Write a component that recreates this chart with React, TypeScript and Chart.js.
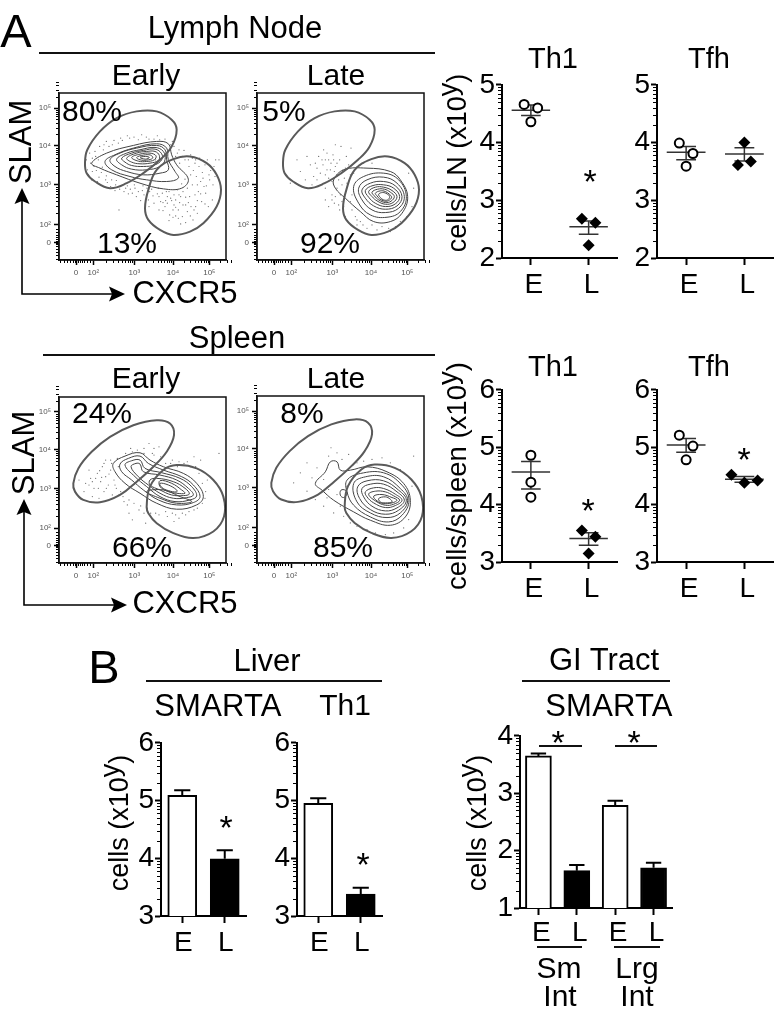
import React, { useEffect, useRef } from 'react';
import { Chart, registerables } from 'chart.js';
Chart.register(...registerables);

const FONT = '"Liberation Sans", Arial, sans-serif';

// ---------- summary data (log10 cells) ----------
const CATEGORIES_EL = ['E', 'L'];
const GI_CATEGORIES = ['E', 'L', 'E', 'L'];

const LN_TH1_E = [4.66, 4.6, 4.36];
const LN_TH1_L = [2.68, 2.61, 2.22];
const LN_TH1_MEAN = [4.56, 2.54];
const LN_TH1_HI = [4.65, 2.64];
const LN_TH1_LO = [4.47, 2.41];
const LN_TFH_E = [3.99, 3.81, 3.59];
const LN_TFH_L = [3.61, 4.0, 3.67];
const LN_TFH_MEAN = [3.83, 3.8];
const LN_TFH_HI = [3.93, 3.91];
const LN_TFH_LO = [3.7, 3.68];
const SP_TH1_E = [4.86, 4.39, 4.13];
const SP_TH1_L = [3.55, 3.44, 3.15];
const SP_TH1_MEAN = [4.57, 3.41];
const SP_TH1_HI = [4.75, 3.51];
const SP_TH1_LO = [4.27, 3.29];
const SP_TFH_E = [5.21, 5.02, 4.78];
const SP_TFH_L = [4.52, 4.38, 4.42];
const SP_TFH_MEAN = [5.04, 4.44];
const SP_TFH_HI = [5.15, 4.49];
const SP_TFH_LO = [4.91, 4.39];

const OFFSET_TRIANGLE = [-0.117, 0.117, 0];
const OFFSET_COLUMN = [0, 0, 0];
const OFFSET_WIDE = [-0.222, 0, 0.228];
const OFFSET_LN_TFH_L = [-0.111, 0, 0.111];

const LIVER_SMARTA = [5.09, 3.99];
const LIVER_SMARTA_ERR = [5.18, 4.14];
const LIVER_TH1 = [4.95, 3.38];
const LIVER_TH1_ERR = [5.04, 3.49];
const GI_SMARTA = [3.65, 1.65, 2.79, 1.7];
const GI_SMARTA_ERR = [3.69, 1.75, 2.87, 1.79];

// ---------- flow data (channel units) ----------
const FLOW_X_TICKS = [51, 103, 226, 342, 451];
const FLOW_Y_TICKS = [53, 105, 225, 342, 455];
const FLOW_TICK_LABELS = ['0', '10²', '10³', '10⁴', '10⁵'];
const FLOW_LINEAR_TICKS = [4, 14, 24, 33, 41, 47, 51, 56, 62, 68, 75, 84, 92];

const LN_GATE_UPPER = [[78,290],[85,330],[123,385],[173,425],[233,445],[293,445],[338,420],[353,390],[338,340],[303,300],[253,260],[203,230],[153,215],[108,235],[83,260]];
const LN_GATE_LOWER = [[258,155],[268,210],[293,270],[343,302],[393,310],[443,290],[473,255],[486,210],[473,160],[433,110],[393,85],[343,75],[303,90],[268,120]];
const SP_GATE_UPPER = [[43,240],[58,285],[98,335],[153,380],[223,415],[293,430],[333,420],[345,385],[323,335],[283,290],[233,245],[183,205],[123,183],[73,190],[48,215]];
const SP_GATE_LOWER = [[263,170],[273,230],[313,280],[353,295],[413,285],[463,250],[493,200],[495,140],[463,95],[403,75],[343,90],[293,120],[268,150]];

const LN_EARLY_CONTOURS = [
  [[98,290],[143,320],[223,343],[293,355],[328,348],[338,315],[353,285],[388,242],[368,215],[313,213],[243,230],[173,255],[123,275]],
  [[138,295],[168,315],[223,335],[293,348],[323,335],[328,300],[348,265],[358,245],[323,235],[263,240],[213,250],[158,270]],
  [[153,300],[183,320],[233,335],[293,343],[318,330],[323,300],[328,270],[303,260],[253,255],[203,265],[168,280]],
  [[173,302],[203,320],[243,330],[288,337],[313,325],[318,300],[303,280],[263,270],[218,272],[188,285]],
  [[188,305],[218,320],[253,328],[288,332],[308,318],[308,300],[288,285],[253,280],[218,283],[198,293]],
  [[203,305],[233,320],[263,325],[288,325],[301,313],[298,298],[273,290],[243,288],[218,293]],
  [[218,307],[243,317],[273,320],[291,312],[286,300],[263,295],[238,296]],
  [[233,307],[253,314],[275,314],[281,305],[263,299],[243,300]],
  [[243,307],[260,310],[271,307],[260,302]],
];
const LN_LATE_CONTOURS = [
  [[230,240],[260,270],[330,275],[400,265],[430,240],[452,190],[435,140],[400,115],[350,115],[310,145],[265,185],[235,215]],
  [[290,220],[320,250],[380,260],[425,240],[448,190],[430,145],[390,128],[340,135],[305,170]],
  [[305,215],[330,240],[380,248],[420,230],[442,190],[425,155],[385,142],[345,150],[315,180]],
  [[315,210],[340,230],[380,235],[415,222],[435,190],[420,162],[385,152],[350,162],[325,185]],
  [[325,208],[348,223],[380,225],[410,215],[428,190],[415,168],[385,160],[355,170],[335,188]],
  [[335,205],[355,218],[380,218],[405,208],[420,190],[408,172],[385,167],[360,177],[345,190]],
  [[345,203],[362,212],[382,212],[400,203],[412,190],[402,176],[385,172],[365,180],[352,192]],
  [[355,200],[370,207],[385,205],[397,197],[404,188],[395,178],[383,176],[368,183],[360,192]],
  [[365,197],[377,202],[390,198],[398,190],[392,180],[380,180],[370,187]],
];
const SP_EARLY_CONTOURS = [
  [[163,300],[198,322],[243,332],[273,310],[313,290],[373,270],[413,240],[433,200],[413,175],[353,162],[293,180],[243,210],[198,240],[168,275]],
  [[183,298],[208,315],[243,322],[268,300],[313,280],[368,260],[403,235],[423,200],[403,182],[353,175],[298,190],[253,220],[218,250],[188,275]],
  [[198,295],[218,308],[243,310],[258,285],[308,272],[363,255],[398,230],[413,202],[393,190],[348,185],[303,200],[263,230],[228,260]],
  [[216,290],[231,300],[243,298],[253,275],[303,265],[353,250],[388,225],[403,205],[383,197],[343,195],[303,210],[268,235],[238,260]],
  [[293,255],[343,245],[378,225],[391,208],[373,203],[338,205],[303,220],[273,235],[273,250]],
  [[303,248],[338,240],[368,220],[378,210],[353,210],[328,215],[303,230]],
  [[303,240],[328,235],[353,220],[353,214],[328,218],[308,228]],
  [[263,215],[303,195],[353,180],[398,185],[363,200],[313,220]],
];
const SP_LATE_CONTOURS = [
  [[175,238],[205,273],[220,303],[240,303],[250,278],[280,278],[330,288],[390,273],[440,238],[460,188],[445,138],[400,113],[340,128],[290,153],[230,188],[195,218]],
  [[270,248],[310,268],[380,270],[435,233],[456,188],[435,143],[395,123],[340,138],[290,173],[270,213]],
  [[290,238],[325,258],[380,258],[430,223],[452,188],[430,150],[390,136],[340,150],[300,183]],
  [[302,228],[330,246],[380,246],[425,218],[448,188],[425,158],[385,146],[340,160],[308,193]],
  [[315,223],[340,236],[380,236],[420,213],[442,188],[420,165],[385,156],[345,170],[320,198]],
  [[325,213],[350,225],[380,223],[415,206],[435,188],[415,172],[385,166],[350,180],[330,198]],
  [[335,206],[355,215],[385,213],[410,201],[428,188],[410,176],[385,173],[355,186]],
  [[350,200],[375,205],[405,196],[420,188],[405,180],[380,178],[360,186]],
  [[365,193],[385,198],[400,191],[405,183],[385,180],[370,183]],
  [[252,218],[265,218],[270,208],[260,196],[250,203]],
];

const LN_EARLY_DOTS = [[82,300],[92,320],[100,265],[88,255],[110,310],[120,248],[133,330],[127,262],[145,232],[150,340],[160,345],[170,225],[178,350],[190,358],[205,222],[212,365],[228,215],[238,360],[250,208],[262,368],[272,205],[285,362],[295,198],[302,360],[310,200],[325,190],[340,355],[335,185],[350,180],[362,172],[375,328],[380,165],[395,315],[392,190],[405,150],[410,300],[420,280],[418,205],[430,262],[435,220],[445,300],[452,240],[460,180],[448,160],[428,175],[415,140],[402,120],[385,145],[370,130],[358,150],[345,165],[332,135],[318,160],[305,175],[298,215],[282,192],[268,180],[255,195],[245,178],[232,190],[220,200],[208,198],[195,205],[182,212],[168,208],[155,220],[140,240],[115,235],[98,240],[85,270],[78,285],[105,280],[118,300],[135,345],[362,290],[378,300],[390,280],[403,268],[412,250],[425,235],[440,200],[400,225],[385,215],[372,205],[355,210],[345,195],[330,205],[320,178],[312,148],[342,128],[365,108],[480,300],[465,280],[455,268],[400,305],[350,310],[360,330],[345,340],[180,150],[290,300],
  [300,190],[312,172],[322,205],[338,178],[350,158],[365,190],[372,165],[380,188],[388,172],[396,160],[408,195],[415,178],[425,198],[438,168],[350,132],[330,118],[358,125],[380,112],[394,132],[410,160],[278,212],[264,215],[252,222],[238,205],[226,225],[214,212],[200,215],[186,222],[172,238],[158,240],[142,252],[130,278],[112,268],[95,290],[100,305],[108,325],[122,340],[142,355],[165,358],[185,365],[205,372],[225,368],[248,375],[270,362],[295,372],[318,362],[335,345],[355,320],[370,310],[388,300],[408,290],[422,305],[438,285],[450,255],[462,225],[470,300],[395,255],[415,225],[432,245],[442,222],[468,250],[378,242],[368,228],[360,195],[342,150],[325,170],[300,150],[285,170],[270,160]];
const LN_LATE_DOTS = [[130,265],[145,240],[160,285],[180,275],[190,260],[200,330],[205,300],[210,270],[215,245],[222,290],[228,315],[235,280],[240,255],[248,300],[252,340],[258,270],[262,245],[268,310],[275,285],[282,335],[290,260],[100,230],[120,300],[150,310],[170,250],[195,225],[180,240],[205,180],[225,195],[240,215],[215,160],[232,170],[248,150],[265,130],[285,150],[300,105],[330,95],[360,90],[400,85],[430,115],[450,130],[465,160],[470,215],[455,260],[320,290],[345,290],[285,195],[295,130],[310,115],[345,105],[375,100],[415,100],[300,280],[270,230],[250,195],[255,175],
  [175,290],[198,285],[215,300],[232,265],[245,240],[255,225],[225,235],[205,255],[220,270],[240,290],[265,275],[280,255],[195,300],[185,310],[230,300],[210,320],[235,345],[165,225],[205,215],[235,190],[225,180],[245,165],[260,160],[280,175],[300,120],[318,105],[395,95]];
const SP_EARLY_DOTS = [[80,240],[95,255],[105,225],[115,270],[125,245],[130,290],[135,215],[140,260],[148,235],[155,280],[160,205],[165,250],[172,225],[178,290],[185,215],[192,200],[200,330],[210,190],[220,335],[225,180],[235,340],[245,172],[255,345],[265,165],[280,330],[290,150],[305,320],[320,155],[335,300],[350,145],[370,150],[390,155],[415,165],[430,180],[440,215],[445,250],[420,270],[395,290],[375,300],[355,290],[340,310],[425,310],[480,330],[405,320],[60,250],[75,215],[100,200],[120,195],[210,150],[220,130],[260,120],[325,140],[345,125],[300,350],[270,360],[285,345],[155,310],[175,315],[90,280],[140,310],
  [100,245],[118,225],[128,258],[142,225],[150,268],[168,235],[110,255],[90,235],[122,278],[135,300],[158,300],[180,205],[195,185],[205,175],[240,160],[255,150],[275,150],[300,145],[340,150],[360,135],[380,145],[405,160],[438,195],[430,240],[410,290],[385,305],[360,305],[320,300],[285,325],[255,330],[215,345]];
const SP_LATE_DOTS = [[110,240],[130,270],[150,300],[165,255],[180,285],[200,250],[215,320],[222,345],[240,330],[255,310],[275,325],[150,215],[175,190],[200,170],[230,150],[250,170],[260,140],[280,120],[300,110],[330,100],[355,90],[385,85],[410,90],[440,105],[455,130],[300,300],[320,305],[345,310],[375,315],[400,300],[430,280],[465,230],[470,320],[210,195],[240,205],[270,230],[290,210],[215,220]];

// ---------- helpers ----------
const toXY = (pts: number[][]) => pts.map(([x, y]) => ({ x, y }));
const closed = (pts: number[][]) => toXY([pts[pts.length - 1], ...pts, pts[0], pts[1]]);
const LOG_FRACTIONS = [2, 3, 4, 5, 6, 7, 8, 9].map((k) => Math.log10(k));

const minorTicksPlugin = {
  id: 'minorTicks',
  afterDraw(chart: any) {
    const o = chart.config.options.minor;
    if (!o) return;
    const { ctx, chartArea, scales } = chart;
    ctx.save();
    ctx.strokeStyle = '#000';
    ctx.lineWidth = o.width;
    ctx.beginPath();
    (o.x || []).forEach((v: number) => {
      const p = Math.round(scales.x.getPixelForValue(v)) + 0.5;
      ctx.moveTo(p, chartArea.bottom);
      ctx.lineTo(p, chartArea.bottom + o.len);
    });
    (o.y || []).forEach((v: number) => {
      const p = Math.round(scales.y.getPixelForValue(v)) + 0.5;
      ctx.moveTo(chartArea.left, p);
      ctx.lineTo(chartArea.left - o.len, p);
    });
    ctx.stroke();
    if (o.box) {
      ctx.lineWidth = 1.5;
      ctx.strokeStyle = '#111';
      ctx.strokeRect(chartArea.left, chartArea.top, chartArea.right - chartArea.left, chartArea.bottom - chartArea.top);
    }
    ctx.restore();
  },
};

function logMinors(min: number, max: number) {
  const out: number[] = [];
  for (let i = min; i < max; i++) LOG_FRACTIONS.forEach((f) => out.push(i + f));
  return out;
}

function axes(xMin: number, xMax: number, xVals: number[], xLabels: string[], yMin: number, yMax: number, labelOffset: number, labelPad = 3) {
  const yVals: number[] = [];
  for (let i = yMin; i <= yMax; i++) yVals.push(i);
  return {
    x: {
      type: 'linear', min: xMin, max: xMax, offset: false,
      afterBuildTicks: (s: any) => { s.ticks = xVals.map((value) => ({ value })); },
      ticks: {
        autoSkip: false, maxRotation: 0, padding: labelPad, labelOffset,
        color: '#000', font: { family: FONT, size: 28 },
        callback: (v: number) => xLabels[xVals.indexOf(v)],
      },
      grid: { drawOnChartArea: false, offset: false, tickLength: 7, tickWidth: 2, tickColor: '#000' },
      border: { color: '#000', width: 2 },
    },
    y: {
      type: 'linear', min: yMin, max: yMax,
      afterBuildTicks: (s: any) => { s.ticks = yVals.map((value) => ({ value })); },
      ticks: { padding: 1, color: '#000', font: { family: FONT, size: 28 }, callback: (v: number) => String(v) },
      grid: { drawOnChartArea: false, tickLength: 6, tickWidth: 2, tickColor: '#000' },
      border: { color: '#000', width: 2 },
    },
  };
}

const seg = (x1: number, y1: number, x2: number, y2: number, width = 1.5, color = '#333') => ({
  showLine: true, data: [{ x: x1, y: y1 }, { x: x2, y: y2 }],
  borderColor: color, borderWidth: width, pointRadius: 0, fill: false,
});

function dotConfig(yMin: number, yMax: number, e: number[], eOff: number[], l: number[], lOff: number[], mean: number[], hi: number[], lo: number[]) {
  const marks = [1, 2].flatMap((c, i) => [
    seg(c - 0.333, mean[i], c + 0.333, mean[i]),
    seg(c, hi[i], c, lo[i], 1.5),
    seg(c - 0.17, hi[i], c + 0.17, hi[i], 1.5),
    seg(c - 0.17, lo[i], c + 0.17, lo[i], 1.5),
  ]);
  return {
    type: 'scatter',
    data: {
      datasets: [
        { label: 'E', data: e.map((y, i) => ({ x: 1 + eOff[i], y })), pointStyle: 'circle', pointRadius: 4.5, pointBorderWidth: 2, pointBackgroundColor: '#fff', pointBorderColor: '#000' },
        { label: 'L', data: l.map((y, i) => ({ x: 2 + lOff[i], y })), pointStyle: 'rectRot', pointRadius: 6, pointBorderWidth: 0, pointBackgroundColor: '#000', pointBorderColor: '#000' },
        ...marks,
      ],
    },
    options: { scales: axes(0.5, 2.5, [1, 2], CATEGORIES_EL, yMin, yMax, 3), minor: { y: logMinors(yMin, yMax), len: 4, width: 1.2 } },
  };
}

function barConfig(xMin: number, xMax: number, cats: string[], yMin: number, yMax: number, vals: number[], errs: number[], thick: number, capHalf: number, labelOffset: number, labelPad: number) {
  const xs = cats.map((_, i) => i + 1);
  const marks = xs.flatMap((c, i) => [
    { type: 'line', order: 1, ...seg(c, vals[i], c, errs[i], 2, '#000') },
    { type: 'line', order: 1, ...seg(c - capHalf, errs[i], c + capHalf, errs[i], 2, '#000') },
  ]);
  return {
    type: 'bar',
    data: {
      datasets: [
        {
          type: 'bar', order: 2, data: vals.map((y, i) => ({ x: xs[i], y })),
          backgroundColor: vals.map((_, i) => (i % 2 === 0 ? '#fff' : '#000')),
          borderColor: '#000', borderWidth: 2, barThickness: thick, grouped: false,
        },
        ...marks,
      ],
    },
    options: { scales: axes(xMin, xMax, xs, cats, yMin, yMax, labelOffset, labelPad), minor: { y: logMinors(yMin, yMax), len: 4, width: 1.2 } },
  };
}

function flowConfig(gates: number[][][], contours: number[][][], dots: number[][]) {
  const decadeMinors = (ticks: number[]) => {
    const out: number[] = [...FLOW_LINEAR_TICKS];
    for (let d = 1; d < ticks.length - 1; d++) LOG_FRACTIONS.forEach((f) => out.push(ticks[d] + (ticks[d + 1] - ticks[d]) * f));
    LOG_FRACTIONS.slice(0, 4).forEach((f) => out.push(ticks[4] + (ticks[4] - ticks[3]) * f));
    return out;
  };
  const flowTicks = (vals: number[]) => ({
    padding: 3, autoSkip: false, maxRotation: 0, color: '#555', font: { family: FONT, size: 8 },
    callback: (v: number) => FLOW_TICK_LABELS[vals.indexOf(v)],
  });
  const grid = { drawOnChartArea: false, tickLength: 5, tickWidth: 1.5, tickColor: '#000' };
  const loopSegment = (n: number) => ({
    borderColor: (ctx: any) => (ctx.p0DataIndex === 0 || ctx.p1DataIndex === n + 2 ? 'rgba(0,0,0,0)' : undefined),
  });
  return {
    type: 'scatter',
    data: {
      datasets: [
        ...gates.map((g) => ({ showLine: true, data: closed(g), tension: 0.4, borderColor: '#5a5a5a', borderWidth: 2, pointRadius: 0, segment: loopSegment(g.length) })),
        ...contours.map((c) => ({ showLine: true, data: closed(c), tension: 0.4, borderColor: '#444', borderWidth: 1, pointRadius: 0, segment: loopSegment(c.length) })),
        { data: toXY(dots), pointRadius: 0.6, pointBorderWidth: 0, pointBackgroundColor: '#666' },
      ],
    },
    options: {
      scales: {
        x: {
          type: 'linear', min: 0, max: 501, grid, border: { color: '#111', width: 1.5 },
          afterBuildTicks: (s: any) => { s.ticks = FLOW_X_TICKS.map((value) => ({ value })); },
          ticks: flowTicks(FLOW_X_TICKS),
        },
        y: {
          type: 'linear', min: 0, max: 500, grid, border: { color: '#111', width: 1.5 },
          afterBuildTicks: (s: any) => { s.ticks = FLOW_Y_TICKS.map((value) => ({ value })); },
          ticks: flowTicks(FLOW_Y_TICKS),
        },
      },
      minor: { x: decadeMinors(FLOW_X_TICKS), y: decadeMinors(FLOW_Y_TICKS), len: 3, width: 1, box: true },
    },
  };
}

function Panel({ area, config }: { area: number[]; config: any }) {
  const ref = useRef<HTMLCanvasElement>(null);
  const [L, T, R, B] = area;
  const padL = 50, padT = 20, padR = 8, padB = 50;
  useEffect(() => {
    const padding = { left: 0, top: 0, right: 0, bottom: 0 };
    const cfg = {
      ...config,
      options: {
        ...config.options,
        animation: false, responsive: false, maintainAspectRatio: false, devicePixelRatio: 1,
        layout: { padding },
        plugins: { legend: { display: false }, tooltip: { enabled: false }, title: { display: false } },
      },
      plugins: [minorTicksPlugin],
    };
    const chart = new Chart(ref.current as any, cfg as any);
    for (let i = 0; i < 3; i++) {
      const a = chart.chartArea;
      const p: any = chart.options.layout!.padding;
      p.left += padL - a.left;
      p.top += padT - a.top;
      p.right += a.right - (padL + R - L);
      p.bottom += a.bottom - (padT + B - T);
      chart.update('none');
    }
    return () => chart.destroy();
  }, []);
  return (
    <canvas
      ref={ref}
      width={R - L + padL + padR}
      height={B - T + padT + padB}
      style={{ position: 'absolute', left: L - padL, top: T - padT, width: R - L + padL + padR, height: B - T + padT + padB }}
    />
  );
}

function Label({ x, y, size = 30, rotate = 0, spacing = 0, children }: any) {
  return (
    <div
      style={{
        position: 'absolute', left: x, top: y, fontFamily: FONT, fontSize: size, lineHeight: 1, color: '#000',
        whiteSpace: 'nowrap', letterSpacing: spacing, transform: `translate(-50%,-50%) rotate(${rotate}deg)`,
      }}
    >
      {children}
    </div>
  );
}

const Rule = ({ x1, x2, y }: { x1: number; x2: number; y: number }) => (
  <div style={{ position: 'absolute', left: x1, top: y - 1, width: x2 - x1, height: 2, background: '#111' }} />
);

const Star = ({ x, y }: { x: number; y: number }) => <Label x={x} y={y + 7} size={34}>*</Label>;
const Sup = () => <span style={{ position: 'relative', top: '-0.33em' }}>y</span>;

const Arrows = ({ x, yTop, y, xRight }: { x: number; yTop: number; y: number; xRight: number }) => (
  <svg style={{ position: 'absolute', left: 0, top: 0 }} width={776} height={1016}>
    <path d={`M${x} ${yTop + 10} L${x} ${y} L${xRight - 10} ${y}`} stroke="#000" strokeWidth={1.6} fill="none" />
    <polygon points={`${x},${yTop} ${x + 7.5},${yTop + 16} ${x},${yTop + 13} ${x - 7.5},${yTop + 16}`} fill="#000" />
    <polygon points={`${xRight},${y} ${xRight - 16},${y + 7.5} ${xRight - 13},${y} ${xRight - 16},${y - 7.5}`} fill="#000" />
  </svg>
);

export default function App() {
  return (
    <div style={{ position: 'absolute', left: 0, top: 0, width: 776, height: 1016, background: '#fff', overflow: 'hidden' }}>
      <Panel area={[59, 93, 226, 260]} config={flowConfig([LN_GATE_UPPER, LN_GATE_LOWER], LN_EARLY_CONTOURS, LN_EARLY_DOTS)} />
      <Panel area={[257, 93, 424, 260]} config={flowConfig([LN_GATE_UPPER, LN_GATE_LOWER], LN_LATE_CONTOURS, LN_LATE_DOTS)} />
      <Panel area={[59, 397, 226, 563]} config={flowConfig([SP_GATE_UPPER, SP_GATE_LOWER], SP_EARLY_CONTOURS, SP_EARLY_DOTS)} />
      <Panel area={[257, 396, 424, 563]} config={flowConfig([SP_GATE_UPPER, SP_GATE_LOWER], SP_LATE_CONTOURS, SP_LATE_DOTS)} />

      <Panel area={[502, 87, 616, 258]} config={dotConfig(2, 5, LN_TH1_E, OFFSET_TRIANGLE, LN_TH1_L, OFFSET_TRIANGLE, LN_TH1_MEAN, LN_TH1_HI, LN_TH1_LO)} />
      <Panel area={[657, 87, 772, 258]} config={dotConfig(2, 5, LN_TFH_E, OFFSET_TRIANGLE, LN_TFH_L, OFFSET_LN_TFH_L, LN_TFH_MEAN, LN_TFH_HI, LN_TFH_LO)} />
      <Panel area={[502, 392, 616, 562]} config={dotConfig(3, 6, SP_TH1_E, OFFSET_COLUMN, SP_TH1_L, OFFSET_TRIANGLE, SP_TH1_MEAN, SP_TH1_HI, SP_TH1_LO)} />
      <Panel area={[657, 392, 772, 562]} config={dotConfig(3, 6, SP_TFH_E, OFFSET_TRIANGLE, SP_TFH_L, OFFSET_WIDE, SP_TFH_MEAN, SP_TFH_HI, SP_TFH_LO)} />

      <Panel area={[161, 745, 246, 916]} config={barConfig(0.5, 2.5, CATEGORIES_EL, 3, 6, LIVER_SMARTA, LIVER_SMARTA_ERR, 29, 0.19, 1, 3)} />
      <Panel area={[297, 745, 382, 916]} config={barConfig(0.5, 2.5, CATEGORIES_EL, 3, 6, LIVER_TH1, LIVER_TH1_ERR, 29, 0.19, 1, 3)} />
      <Panel area={[520, 738, 672, 908]} config={barConfig(0.52, 4.48, GI_CATEGORIES, 1, 4, GI_SMARTA, GI_SMARTA_ERR, 26, 0.2, 3, 1)} />

      <Arrows x={22} yTop={188} y={294} xRight={125} />
      <Arrows x={24} yTop={499} y={605} xRight={127} />

      <Label x={16} y={30} size={47}>A</Label>
      <Label x={235} y={27} size={31}>Lymph Node</Label>
      <Rule x1={39} x2={435} y={53} />
      <Label x={146} y={75} size={30}>Early</Label>
      <Label x={336} y={75} size={30}>Late</Label>
      <Label x={20} y={142} size={31} rotate={-90}>SLAM</Label>
      <Label x={185} y={292} size={31}>CXCR5</Label>
      <Label x={92} y={111}>80%</Label>
      <Label x={127} y={243}>13%</Label>
      <Label x={284} y={111}>5%</Label>
      <Label x={330} y={243}>92%</Label>

      <Label x={237} y={337} size={31}>Spleen</Label>
      <Rule x1={43} x2={435} y={355} />
      <Label x={146} y={378} size={30}>Early</Label>
      <Label x={336} y={378} size={30}>Late</Label>
      <Label x={23} y={453} size={31} rotate={-90}>SLAM</Label>
      <Label x={185} y={602} size={31}>CXCR5</Label>
      <Label x={102} y={413}>24%</Label>
      <Label x={142} y={547}>66%</Label>
      <Label x={302} y={413}>8%</Label>
      <Label x={343} y={547}>85%</Label>

      <Label x={553} y={58} size={29}>Th1</Label>
      <Label x={709} y={58} size={29}>Tfh</Label>
      <Label x={553} y={366} size={29}>Th1</Label>
      <Label x={709} y={366} size={29}>Tfh</Label>
      <Label x={457} y={163} size={27} rotate={-90}>cells/LN (x10<Sup />)</Label>
      <Label x={457} y={476} size={27.5} rotate={-90}>cells/spleen (x10<Sup />)</Label>
      <Star x={590} y={174} />
      <Star x={588} y={503} />
      <Star x={744} y={452} />

      <Label x={104} y={666} size={47}>B</Label>
      <Label x={267} y={660} size={31}>Liver</Label>
      <Rule x1={146} x2={382} y={681} />
      <Label x={218} y={705} size={31} spacing={0.2}>SMARTA</Label>
      <Label x={345} y={705} size={30}>Th1</Label>
      <Label x={119} y={823} size={27} rotate={-90}>cells (x10<Sup />)</Label>
      <Star x={226} y={820} />
      <Star x={363} y={857} />

      <Label x={604} y={659} size={31}>GI Tract</Label>
      <Rule x1={522} x2={670} y={681} />
      <Label x={609} y={705} size={31} spacing={0.2}>SMARTA</Label>
      <Label x={477} y={823} size={27} rotate={-90}>cells (x10<Sup />)</Label>
      <Rule x1={539} x2={582} y={746} />
      <Rule x1={615} x2={657} y={746} />
      <Star x={558} y={735} />
      <Star x={634} y={735} />
      <Rule x1={537} x2={582} y={947} />
      <Rule x1={614} x2={660} y={947} />
      <Label x={559} y={968} size={30}>Sm</Label>
      <Label x={560} y={996} size={30}>Int</Label>
      <Label x={637} y={968} size={30}>Lrg</Label>
      <Label x={637} y={996} size={30}>Int</Label>
    </div>
  );
}
